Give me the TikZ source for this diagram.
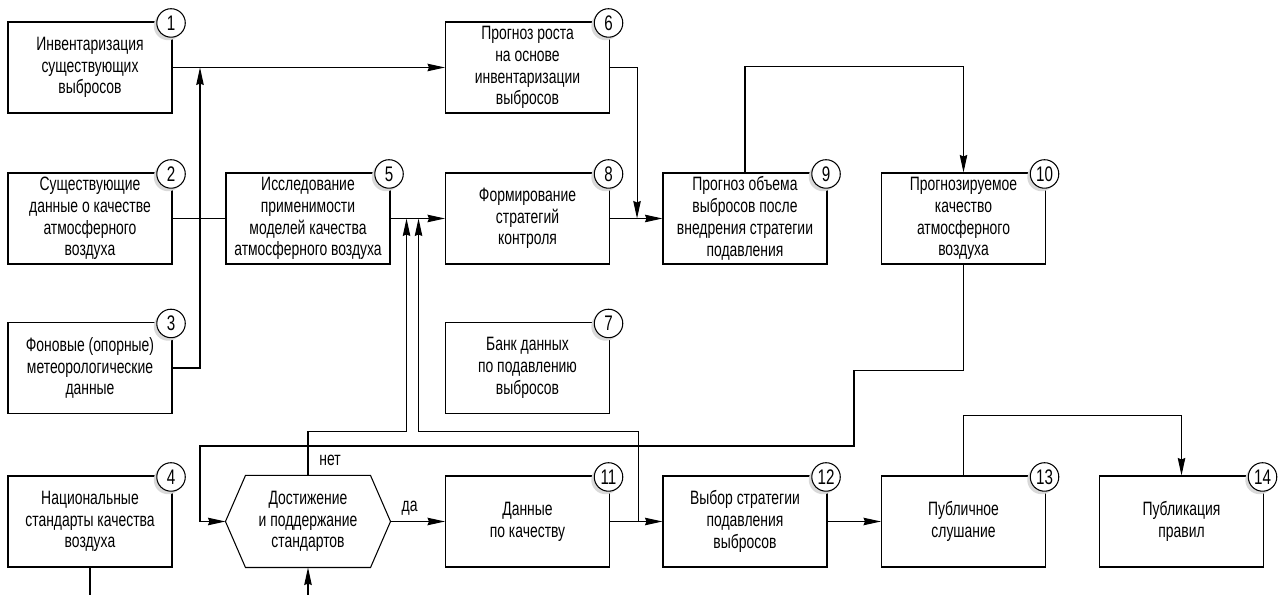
\documentclass[tikz,border=0pt]{standalone}
\usepackage{fontspec}
\setmainfont[FakeStretch=0.72]{Liberation Sans}
\usetikzlibrary{arrows.meta,shadows,positioning}

\begin{document}
\begin{tikzpicture}[every node/.style={font=\fontsize{11}{12.4}\selectfont},
  box/.style={draw,line width=.6pt,minimum width=3.28cm,minimum height=1.82cm,align=center,inner sep=0pt},
  num/.style={circle,draw,line width=.6pt,fill=white,minimum size=5.7mm,inner sep=0pt,font=\fontsize{12}{12}\selectfont,
    drop shadow={shadow xshift=-.6mm,shadow yshift=-.6mm,fill=black!15,opacity=1}},
  >={Stealth[length=3.5mm,width=1.5mm,inset=.3mm]}, line width=.6pt]
  \useasboundingbox (0,0) rectangle (25.64,11.9);

  \node[box] (n1) at (1.8,10.55) {Инвентаризация\\существующих\\выбросов};
  \node[box] (n2) at (1.8,7.53) {Существующие\\данные о качестве\\атмосферного\\воздуха};
  \node[box] (n3) at (1.8,4.54) {Фоновые (опорные)\\метеорологические\\данные};
  \node[box] (n4) at (1.8,1.47) {Национальные\\стандарты качества\\воздуха};
  \node[box] (n5) at (6.16,7.53) {Исследование\\применимости\\моделей качества\\атмосферного воздуха};
  \node[box] (n6) at (10.55,10.55) {Прогноз роста\\на основе\\инвентаризации\\выбросов};
  \node[box] (n7) at (10.55,4.54) {Банк данных\\по подавлению\\выбросов};
  \node[box] (n8) at (10.55,7.53) {Формирование\\стратегий\\контроля};
  \node[box] (n9) at (14.9,7.53) {Прогноз объема\\выбросов после\\внедрения стратегии\\подавления};
  \node[box] (n10) at (19.27,7.53) {Прогнозируемое\\качество\\атмосферного\\воздуха};
  \node[box] (n11) at (10.55,1.47) {Данные\\по качеству};
  \node[box] (n12) at (14.9,1.47) {Выбор стратегии\\подавления\\выбросов};
  \node[box] (n13) at (19.27,1.47) {Публичное\\слушание};
  \node[box] (n14) at (23.63,1.47) {Публикация\\правил};

  % decision
  \node[box,draw=none] (d) at (6.16,1.47) {Достижение\\и поддержание\\стандартов};
  \draw (d.west) -- ([xshift=4mm]d.north west) -- ([xshift=-4mm]d.north east) -- (d.east)
    -- ([xshift=-4mm]d.south east) -- ([xshift=4mm]d.south west) -- cycle;

  \foreach \i in {1,...,14}
    \node[num] at ([xshift=-.3mm,yshift=-.3mm]n\i.north east) {\i};

  \coordinate (j1) at (4.0,10.55);
  \draw[->] (n1.east) -- (n6.west);
  \draw (n2.east) -- (n5.west);
  \draw[->] (n3.east) -| (j1);
  \draw[->] (n5.east) -- (n8.west);
  \draw[->] (n6.east) -- ++(.54,0) coordinate(c6) -- (c6 |- n9.west);
  \draw[->] (n8.east) -- (n9.west);
  \draw[->] (n9.north) -- ++(0,2.12) -| (n10.north);
  \draw[->] (n10.south) -- ++(0,-2.12) -- ++(-2.19,0) |- (4.0,2.98) |- (d.west);
  \draw[->] (d.north) -- ++(0,.88) node[above right=-1mm and 1mm,pos=.2]{нет} -| ([xshift=3.2mm]n5.east);
  \draw[->] ([xshift=5.6mm]n11.east) -- ++(0,1.8) -| ([xshift=5.6mm]n5.east);
  \draw[->] (d.east) -- (n11.west) node[above,pos=.35]{да};
  \draw[->] (n11.east) -- (n12.west);
  \draw[->] (n12.east) -- (n13.west);
  \draw[->] (n13.north) -- ++(0,1.2) -| (n14.north);
  \draw (n4.south) -- ++(0,-.56);
  \coordinate (din) at (d.south |- 0,0);
  \draw[->] (din) -- (d.south);
\end{tikzpicture}
\end{document}
